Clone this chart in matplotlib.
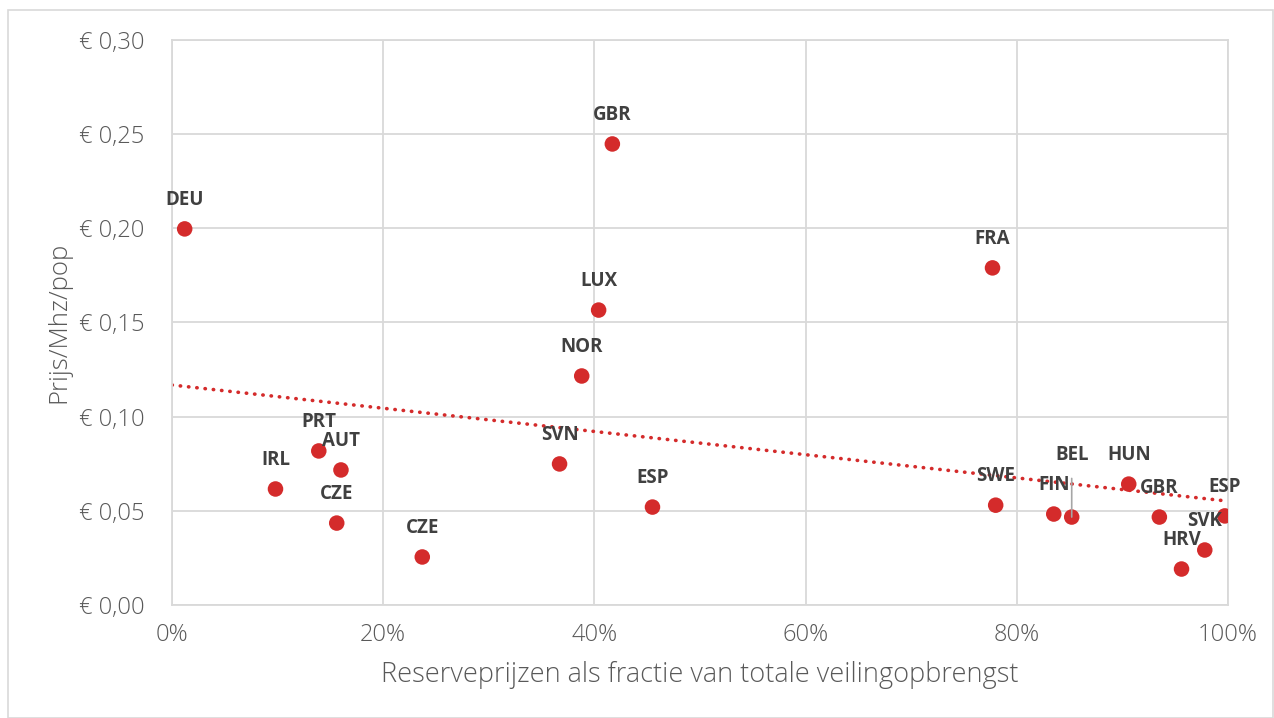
import numpy as np
import matplotlib.pyplot as plt
from matplotlib.patches import Rectangle

plt.rcParams["font.family"] = ["Open Sans", "DejaVu Sans"]

countries = ["DEU", "IRL", "PRT", "AUT", "CZE", "CZE", "SVN", "NOR", "LUX", "GBR",
             "ESP", "FRA", "SWE", "FIN", "BEL", "HUN", "GBR", "HRV", "SVK", "ESP"]
reserve_share = [0.012, 0.098, 0.139, 0.160, 0.156, 0.237, 0.367, 0.388, 0.404, 0.417,
                 0.455, 0.777, 0.780, 0.835, 0.852, 0.906, 0.935, 0.956, 0.978, 0.997]
price_mhz_pop = [0.1997, 0.0616, 0.0818, 0.0717, 0.0435, 0.0255, 0.0749, 0.1216, 0.1566, 0.2448,
                 0.0520, 0.1790, 0.0530, 0.0483, 0.0467, 0.0642, 0.0467, 0.0191, 0.0292, 0.0473]

red = "#d42b2b"
grid_c = "#d9d9d9"
tick_c = "#595959"
label_c = "#404040"

fig = plt.figure(figsize=(12.74, 7.18), dpi=100)
ax = fig.add_axes([172 / 1274, 113 / 718, 1056 / 1274, 565 / 718])

# outer chart border
fig.patches.append(Rectangle((8 / 1274, 0), 1 - 9 / 1274, 1 - 10 / 718, transform=fig.transFigure,
                             fill=False, edgecolor=grid_c, linewidth=1.2))

x = np.array(reserve_share)
y = np.array(price_mhz_pop)

# linear trendline
coef = np.polyfit(x, y, 1)
xs = np.array([0.0, 1.0])
ax.plot(xs, np.polyval(coef, xs), color=red, linewidth=2.6,
        linestyle=(0, (0.1, 2.2)), dash_capstyle="round", zorder=2)

ax.scatter(x, y, s=125, color=red, edgecolors="none", zorder=3)

for name, xi, yi in zip(countries, x, y):
    if name == "BEL":
        ax.annotate(name, (xi, yi), xytext=(0, 45), textcoords="offset points",
                    ha="center", va="center", fontsize=13.5, fontweight="bold", color=label_c,
                    arrowprops=dict(arrowstyle="-", color="#a6a6a6", lw=1.2, shrinkA=8, shrinkB=0))
    else:
        ax.annotate(name, (xi, yi), xytext=(0, 21), textcoords="offset points",
                    ha="center", va="center", fontsize=13.5, fontweight="bold", color=label_c)

ax.set_xlim(0, 1)
ax.set_ylim(0, 0.30)
ax.set_xticks(np.arange(0, 1.01, 0.2))
ax.set_yticks(np.arange(0, 0.301, 0.05))
ax.set_xticklabels([f"{int(round(v * 100))}%" for v in np.arange(0, 1.01, 0.2)])
ax.set_yticklabels([f"€ {v:.2f}".replace(".", ",") for v in np.arange(0, 0.301, 0.05)])
ax.tick_params(length=0, labelsize=17, labelcolor=tick_c)
ax.tick_params(axis="x", pad=13)
ax.tick_params(axis="y", pad=20)
for lbl in ax.get_xticklabels() + ax.get_yticklabels():
    lbl.set_fontweight("light")

ax.grid(True, color=grid_c, linewidth=1.3)
ax.set_axisbelow(True)
for s in ax.spines.values():
    s.set_color(grid_c)
    s.set_linewidth(1.3)

ax.set_xlabel("Reserveprijzen als fractie van totale veilingopbrengst", fontsize=19.5,
              color=tick_c, fontweight="light", labelpad=10)
ax.set_ylabel("Prijs/Mhz/pop", fontsize=18.5, color=tick_c, fontweight="light", labelpad=5)

fig.savefig("out.png", dpi=100)
